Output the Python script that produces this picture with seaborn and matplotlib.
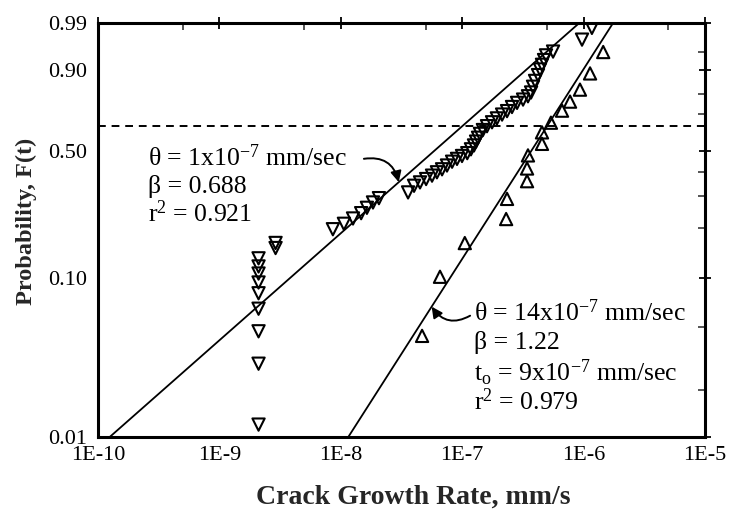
import numpy as np
import pandas as pd
import matplotlib
matplotlib.use("Agg")
import matplotlib.pyplot as plt
import seaborn as sns
from matplotlib.ticker import FixedLocator, NullFormatter

# Group A (downward triangles): crack growth rate, mm/s, and cumulative probability
rate_a = [2.1e-9, 2.1e-9, 2.1e-9, 2.1e-9, 2.1e-9, 2.1e-9, 2.1e-9, 2.1e-9, 2.1e-9,
          2.9e-9, 2.9e-9,
          8.6e-9, 1.06e-8, 1.26e-8, 1.47e-8, 1.64e-8, 1.84e-8, 2.06e-8,
          3.58e-8, 4.01e-8, 4.49e-8, 5.04e-8, 5.64e-8, 6.19e-8, 6.82e-8, 7.49e-8,
          8.25e-8, 9.06e-8, 9.96e-8,
          1.10e-7, 1.18e-7, 1.25e-7, 1.30e-7, 1.35e-7, 1.40e-7, 1.48e-7, 1.60e-7,
          1.76e-7, 1.93e-7,
          2.13e-7, 2.34e-7, 2.57e-7, 2.83e-7, 3.17e-7, 3.48e-7, 3.69e-7, 3.83e-7, 3.98e-7,
          4.21e-7, 4.37e-7, 4.54e-7, 4.72e-7, 4.90e-7, 5.60e-7,
          9.70e-7, 1.17e-6]
prob_a = [0.0120, 0.0293, 0.0469, 0.0649, 0.0809, 0.0942, 0.1068, 0.1179, 0.1319,
          0.1519, 0.1627,
          0.1956, 0.2101, 0.2252, 0.2412, 0.2583, 0.2763, 0.2916,
          0.3129, 0.3390, 0.3529, 0.3671, 0.3818, 0.3968, 0.4104, 0.4281,
          0.4463, 0.4601, 0.4745,
          0.4888, 0.5085, 0.5286, 0.5489, 0.5695, 0.5903, 0.6112, 0.6321,
          0.6534, 0.6744,
          0.6951, 0.7135, 0.7351, 0.7564, 0.7730, 0.7893, 0.8074, 0.8336, 0.8583,
          0.8812, 0.9013, 0.9164, 0.9302, 0.9423, 0.9511,
          0.9727, 0.9862]

# Group B (upward triangles)
rate_b = [4.67e-8, 6.56e-8, 1.05e-7, 2.30e-7, 2.34e-7, 3.42e-7, 3.42e-7, 3.48e-7,
          4.54e-7, 4.54e-7, 5.38e-7, 6.64e-7, 7.73e-7, 9.33e-7, 1.13e-6, 1.45e-6]
prob_b = [0.0439, 0.1021, 0.1625, 0.2236, 0.2889, 0.3580, 0.4142, 0.4775,
          0.5370, 0.5986, 0.6512, 0.7160, 0.7628, 0.8206, 0.8874, 0.9501]

# Weibull fit parameters
theta_a, beta_a, r2_a = 1e-7, 0.688, 0.921
theta_b, beta_b, t0_b, r2_b = 14e-7, 1.22, 9e-7, 0.979
char_life = 0.632

x_major = [1e-10, 1e-9, 1e-8, 1e-7, 1e-6, 1e-5]
x_major_labels = ["1E-10", "1E-9", "1E-8", "1E-7", "1E-6", "1E-5"]
x_minor = [5e-10, 5e-9, 5e-8, 5e-7, 5e-6]
y_major = [0.01, 0.10, 0.50, 0.90, 0.99]
y_major_labels = ["0.01", "0.10", "0.50", "0.90", "0.99"]
y_minor = [0.02, 0.05, 0.20, 0.30, 0.40, 0.70, 0.80, 0.95]


def weibull_fwd(p):
    p = np.clip(np.asarray(p, dtype=float), 1e-12, 1 - 1e-12)
    return np.log(-np.log1p(-p))


def weibull_inv(w):
    return -np.expm1(-np.exp(np.asarray(w, dtype=float)))


def fit_line(scale, shape):
    w = np.linspace(weibull_fwd(0.002), weibull_fwd(0.998), 200)
    return pd.DataFrame({"rate": scale * np.exp(w / shape), "prob": weibull_inv(w)})


def fit_prob(rate, scale, shape):
    return float(weibull_inv(shape * np.log(rate / scale)))


sns.set_style("white")
plt.rcParams["font.family"] = ["Liberation Serif", "DejaVu Serif"]
plt.rcParams["mathtext.fontset"] = "custom"
plt.rcParams["mathtext.rm"] = "Liberation Serif"
plt.rcParams["mathtext.default"] = "regular"

fig = plt.figure(figsize=(7.36, 5.16), dpi=100)
ax = fig.add_axes([0.1332, 0.1531, 0.8247, 0.8023])
ax.set_xscale("log")
ax.set_yscale("function", functions=(weibull_fwd, weibull_inv))

scale_b = theta_b - t0_b
line_a = fit_line(theta_a, beta_a)
line_b = fit_line(scale_b, beta_b)
sns.lineplot(data=line_a, x="rate", y="prob", sort=False, estimator=None,
             color="black", lw=1.3, ax=ax)
sns.lineplot(data=line_b, x="rate", y="prob", sort=False, estimator=None,
             color="black", lw=1.3, ax=ax)

df_a = pd.DataFrame({"rate": rate_a, "prob": prob_a})
df_b = pd.DataFrame({"rate": rate_b, "prob": prob_b})
sns.scatterplot(data=df_a, x="rate", y="prob", marker="v", s=78,
                facecolors="none", edgecolor="black", linewidth=1.5, ax=ax, zorder=3)
sns.scatterplot(data=df_b, x="rate", y="prob", marker="^", s=78,
                facecolors="none", edgecolor="black", linewidth=1.5, ax=ax, zorder=3)

ax.axhline(char_life, color="black", lw=1.4, ls=(0, (4, 3)))

ax.set_xlim(1e-10, 1e-5)
ax.set_ylim(0.01, 0.99)

ax.set_xticks(x_major)
ax.set_xticklabels(x_major_labels)
ax.xaxis.set_minor_locator(FixedLocator(x_minor))
ax.xaxis.set_minor_formatter(NullFormatter())
ax.set_yticks(y_major)
ax.set_yticklabels(y_major_labels)
ax.yaxis.set_minor_locator(FixedLocator(y_minor))
ax.yaxis.set_minor_formatter(NullFormatter())

ax.tick_params(which="major", direction="inout", length=9, width=1.3,
               top=True, right=True, labelsize=16, colors="black")
ax.tick_params(axis="x", which="major", pad=2)
ax.tick_params(axis="y", which="major", pad=3)
ax.tick_params(which="minor", direction="in", length=5, width=1.1,
               top=True, right=True)

for sp in ax.spines.values():
    sp.set_linewidth(2.2)
    sp.set_color("black")

ax.set_xlabel("Crack Growth Rate, mm/s", fontsize=20, fontweight="bold")
ax.set_ylabel("Probability, F(t)", fontsize=17.5, fontweight="bold")
ax.xaxis.set_label_coords(0.52, -0.115)
ax.yaxis.set_label_coords(-0.10, 0.52)

txt_kw = dict(transform=ax.transAxes, fontsize=18.5, va="center", ha="left", color="black")
ax.text(0.083, 0.674, "θ = 1x10$^{-7}$ mm/sec", **txt_kw)
ax.text(0.083, 0.604, f"β = {beta_a}", **txt_kw)
ax.text(0.083, 0.539, f"r$^{{2}}$ = {r2_a}", **txt_kw)

ax.text(0.619, 0.300, "θ = 14x10$^{-7}$ mm/sec", **txt_kw)
ax.text(0.619, 0.228, f"β = {beta_b}", **txt_kw)
ax.text(0.619, 0.155, "t$_{o}$ = 9x10$^{-7}$ mm/sec", **txt_kw)
ax.text(0.619, 0.085, f"r$^{{2}}$ = {r2_b}", **txt_kw)

arrow_kw = dict(arrowstyle="-|>", color="black", lw=1.4, mutation_scale=16,
                shrinkA=0, shrinkB=0, connectionstyle="arc3,rad=-0.45")
tip_a = 3.0e-8
ax.annotate("", xy=(tip_a, fit_prob(tip_a, theta_a, beta_a)), xycoords="data",
            xytext=(0.438, 0.672), textcoords="axes fraction", arrowprops=arrow_kw)
tip_b = 5.6e-8
ax.annotate("", xy=(tip_b, fit_prob(tip_b, scale_b, beta_b)), xycoords="data",
            xytext=(0.613, 0.293), textcoords="axes fraction", arrowprops=arrow_kw)

if ax.get_legend() is not None:
    ax.get_legend().remove()

fig.savefig("out.png", dpi=100)
